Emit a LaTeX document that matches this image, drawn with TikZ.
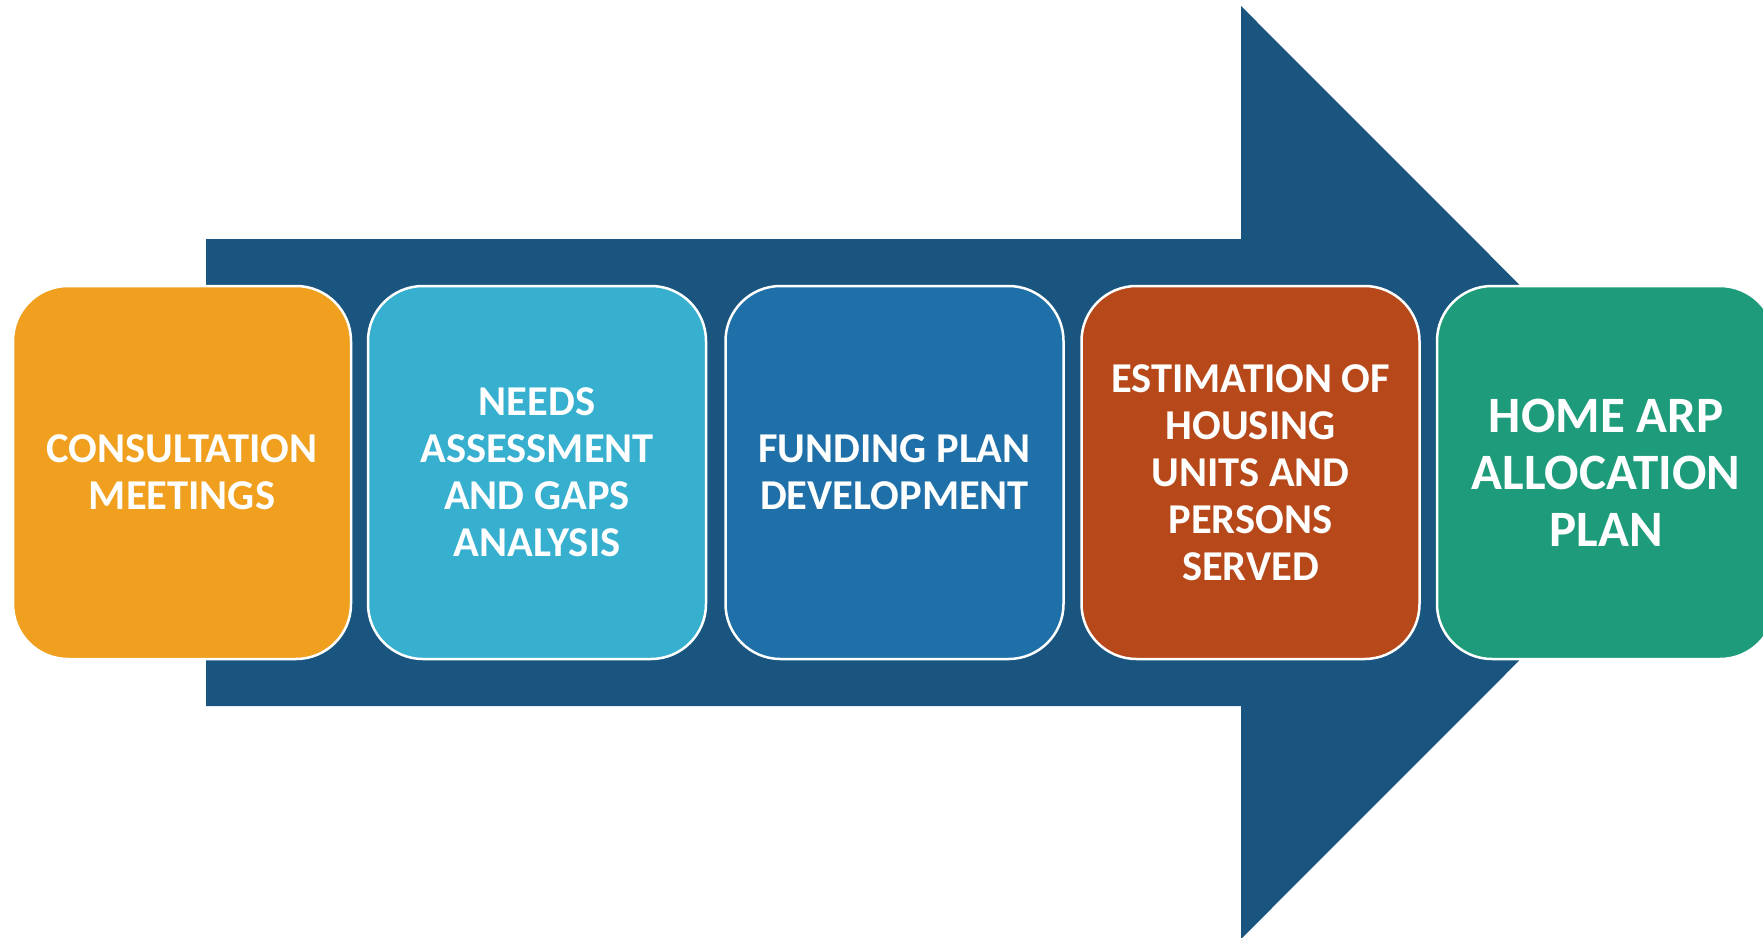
\documentclass[tikz,border=0pt]{standalone}
\usepackage{fontspec}
\setmainfont{Carlito}
\definecolor{arrowblue}{HTML}{1A5580}
\definecolor{cOrange}{HTML}{F09F1E}
\definecolor{cCyan}{HTML}{37AFCF}
\definecolor{cBlue}{HTML}{1F70A9}
\definecolor{cRed}{HTML}{B64819}
\definecolor{cGreen}{HTML}{1E9B7A}
\begin{document}
\begin{tikzpicture}[x=1pt,y=-1pt,
  stepbox/.style={draw=white, line width=2.5pt, rounded corners=55pt,
    minimum width=338pt, minimum height=373pt, inner sep=0pt,
    text=white, align=center,
    font=\fontsize{42.5}{47}\selectfont\bfseries},
  bigbox/.style={stepbox, font=\fontsize{51}{57}\selectfont\bfseries}]
\useasboundingbox (0,0) rectangle (1763,937);
\clip (0,0) rectangle (1763,937);
\fill[white] (0,0) rectangle (1763,937);
% big arrow
\fill[arrowblue] (206,239) -- (1241,239) -- (1241,6) -- (1707,472.5)
  -- (1241,939) -- (1241,706) -- (206,706) -- cycle;
% steps
\node[stepbox, fill=cOrange] (s1) at (182,472.5) {CONSULTATION\\MEETINGS};
\node[stepbox, fill=cCyan] (s2) at (537,472.5) {NEEDS\\ASSESSMENT\\AND GAPS\\ANALYSIS};
\node[stepbox, fill=cBlue] (s3) at (894.5,472.5) {FUNDING PLAN\\DEVELOPMENT};
\node[stepbox, fill=cRed] (s4) at (1250.5,472.5) {ESTIMATION OF\\HOUSING\\UNITS AND\\PERSONS\\SERVED};
\node[bigbox, fill=cGreen] (s5) at (1606,472.5) {HOME ARP\\ALLOCATION\\PLAN};
\end{tikzpicture}
\end{document}
